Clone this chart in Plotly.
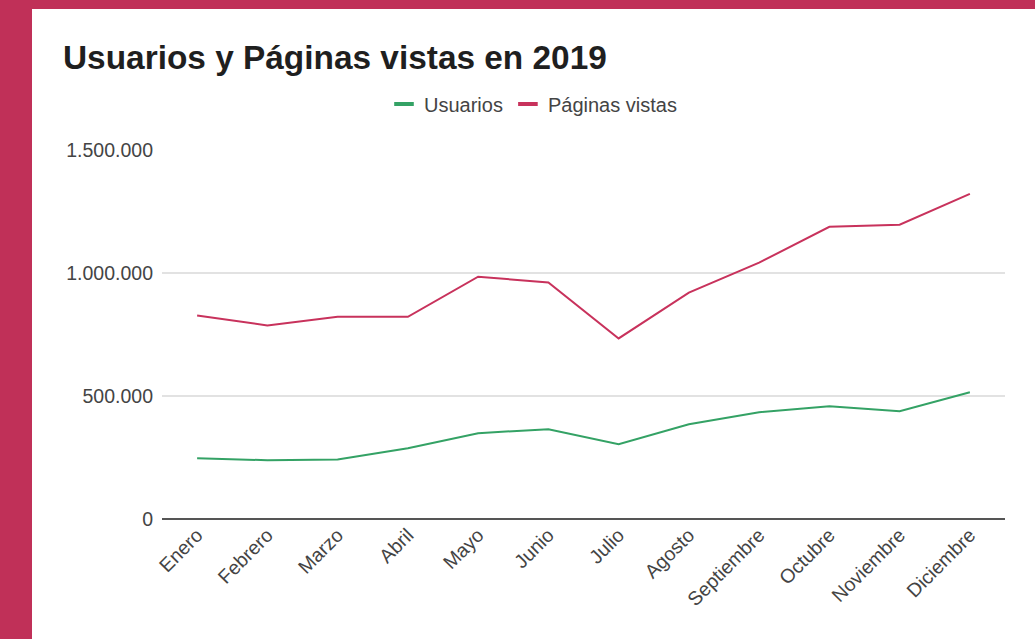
import plotly.graph_objects as go

meses = ["Enero", "Febrero", "Marzo", "Abril", "Mayo", "Junio", "Julio",
         "Agosto", "Septiembre", "Octubre", "Noviembre", "Diciembre"]
usuarios = [247000, 239000, 242000, 288000, 349000, 365000, 304000,
            385000, 434000, 458000, 438000, 515000]
paginas_vistas = [827000, 787000, 822000, 822000, 985000, 961000, 734000,
                  920000, 1042000, 1188000, 1196000, 1322000]
y_ticks = [0, 500000, 1000000, 1500000]

GREEN = "#34a265"
PINK = "#c8325c"
BORDER = "#c03058"
FONT = "Liberation Sans, Arial, sans-serif"

W, H = 1035, 639
L, R, T, B = 162, 30, 150, 120
pw, ph = W - L - R, H - T - B


def px_x(p):
    return (p - L) / pw


def px_y(p):
    return (H - B - p) / ph


fig = go.Figure()
fig.add_trace(go.Scatter(x=meses, y=usuarios, mode="lines", name="Usuarios",
                         line=dict(color=GREEN, width=2), showlegend=False))
fig.add_trace(go.Scatter(x=meses, y=paginas_vistas, mode="lines", name="Páginas vistas",
                         line=dict(color=PINK, width=2), showlegend=False))
for nm, col in [("Usuarios", GREEN), ("Páginas vistas", PINK)]:
    fig.add_trace(go.Scatter(x=[None], y=[None], mode="markers", name=nm,
                             marker=dict(symbol="line-ew", size=14,
                                         line=dict(color=col, width=4))))

fig.add_shape(type="rect", xref="paper", yref="paper", layer="below",
              x0=px_x(32), x1=px_x(W + 5), y0=px_y(H + 5), y1=px_y(9),
              fillcolor="white", line=dict(width=0))

fig.update_layout(
    width=W, height=H,
    margin=dict(l=L, r=R, t=T, b=B),
    paper_bgcolor=BORDER,
    plot_bgcolor="rgba(0,0,0,0)",
    separators=",.",
    font=dict(family=FONT, size=19, color="#444444"),
    title=dict(text="<b>Usuarios y Páginas vistas en 2019</b>",
               font=dict(family=FONT, size=33.4, color="#1f1f1f"),
               x=63 / W, xanchor="left", xref="container",
               y=1 - 57 / H, yanchor="middle", yref="container"),
    legend=dict(orientation="h", x=px_x(533), xanchor="center",
                y=px_y(104), yanchor="middle",
                font=dict(family=FONT, size=20, color="#444444"),
                bgcolor="rgba(0,0,0,0)", itemwidth=30),
    showlegend=True,
)
fig.update_xaxes(type="category", range=[-0.5, 11.5], tickangle=-45,
                 showgrid=False, showline=False, zeroline=False,
                 tickfont=dict(size=19.5, color="#444444"), ticks="")
fig.update_yaxes(range=[0, 1500000], tickvals=y_ticks, tickformat=",.0f",
                 showgrid=True, gridcolor="#e2e2e2", gridwidth=1.5,
                 zeroline=True, zerolinecolor="#555555", zerolinewidth=2,
                 showline=False, ticks="", ticklabelstandoff=8,
                 tickfont=dict(size=19.5, color="#444444"))

fig.write_html("out.html", config={"displayModeBar": False},
               post_script="document.body.style.margin='0';document.body.style.overflow='hidden';")
